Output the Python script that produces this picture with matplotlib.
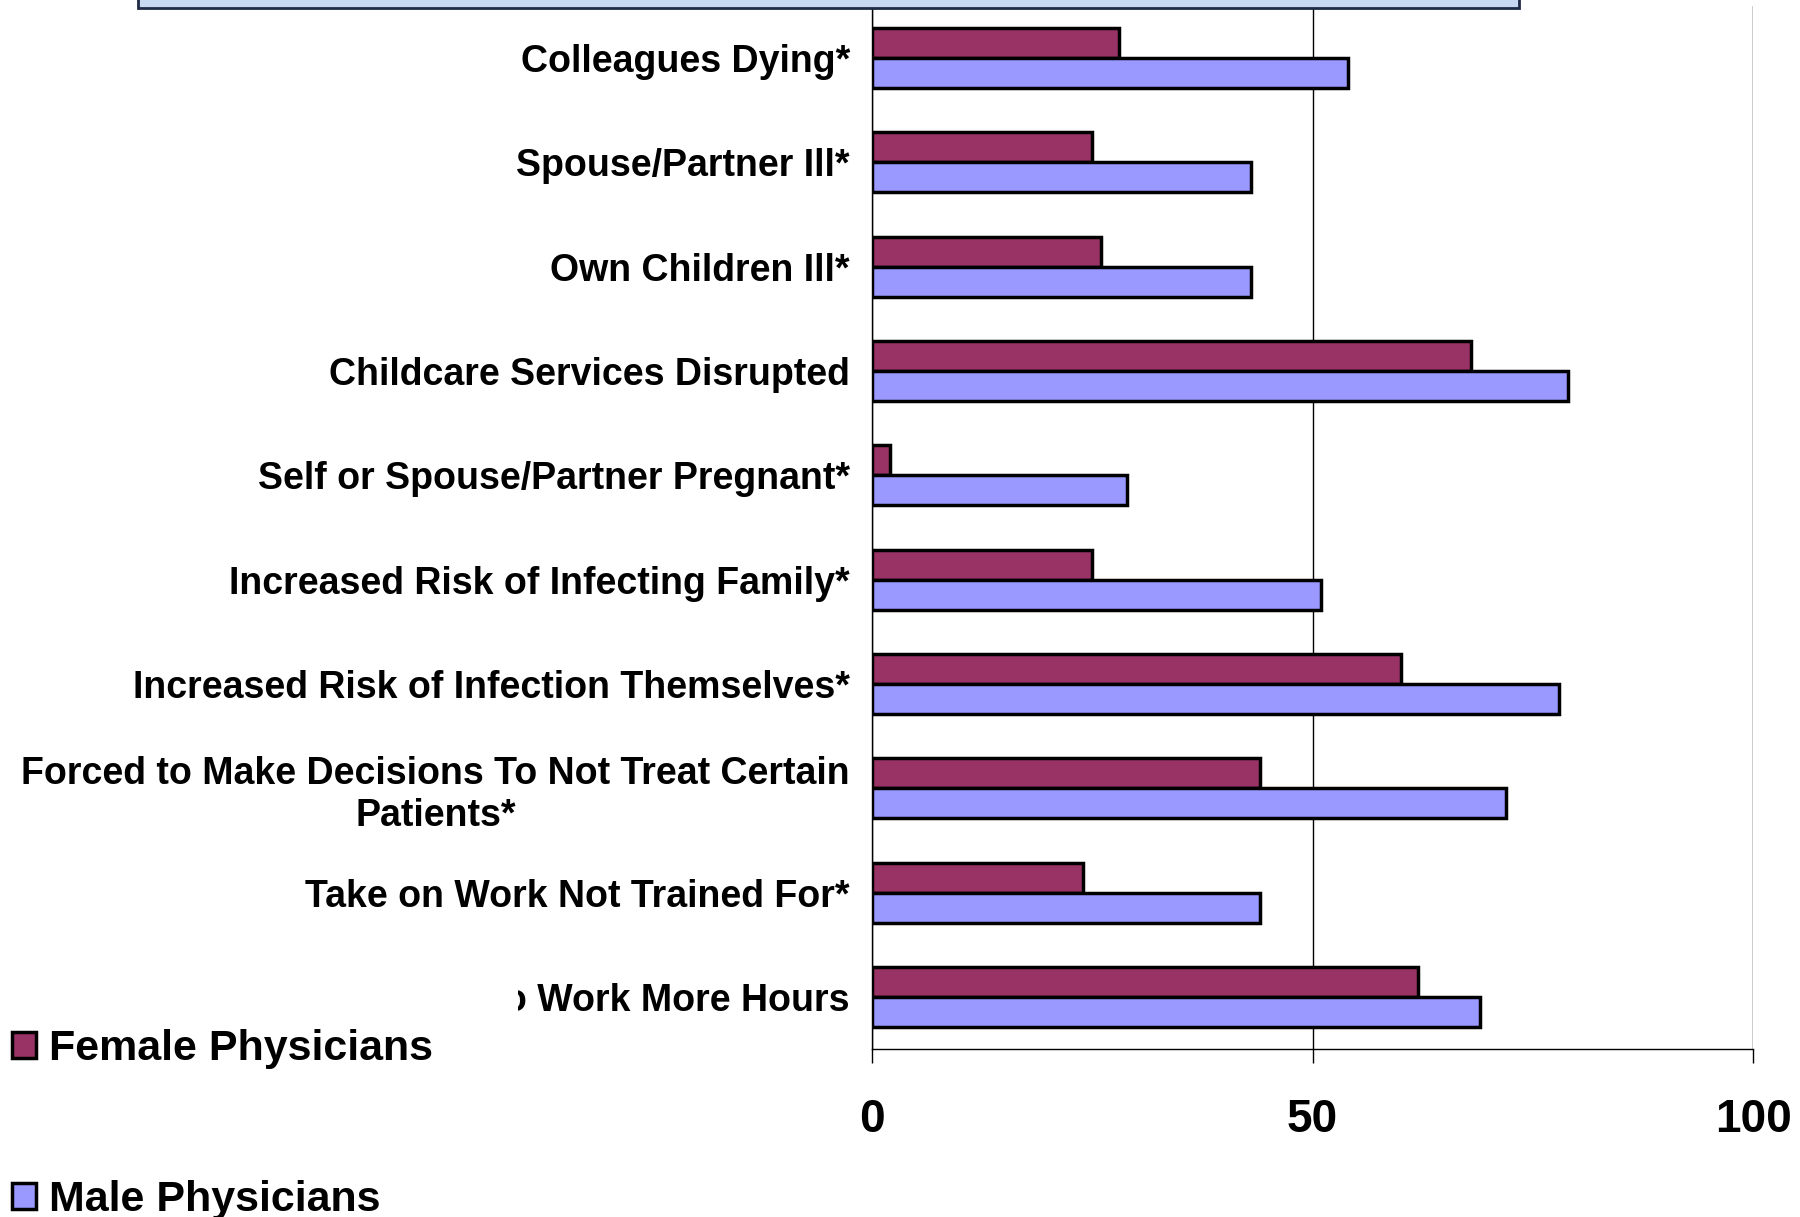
import matplotlib
matplotlib.use("Agg")
import matplotlib.pyplot as plt
from matplotlib.patches import Rectangle
import numpy as np

categories = [
    "Colleagues Dying*",
    "Spouse/Partner Ill*",
    "Own Children Ill*",
    "Childcare Services Disrupted",
    "Self or Spouse/Partner Pregnant*",
    "Increased Risk of Infecting Family*",
    "Increased Risk of Infection Themselves*",
    "Forced to Make Decisions To Not Treat Certain\nPatients*",
    "Take on Work Not Trained For*",
    "Forced to Work More Hours",
]
female = [28, 25, 26, 68, 2, 25, 60, 44, 24, 62]
male = [54, 43, 43, 79, 29, 51, 78, 72, 44, 69]
series_names = ["Female Physicians", "Male Physicians"]
xticks = [0, 50, 100]

plt.rcParams['font.family'] = ['Liberation Sans', 'DejaVu Sans']
plt.rcParams['font.weight'] = 'bold'

W, H = 1800, 1217
fig = plt.figure(figsize=(W / 100, H / 100), dpi=100)
ax = fig.add_axes([872 / W, 1 - 1049 / H, (1753 - 872) / W, (1049 - 6) / H])

y = np.arange(len(categories))
h = 0.288
ax.barh(y - h / 2, female, height=h, color="#993366", edgecolor="black",
        linewidth=2.5, label=series_names[0], zorder=3)
ax.barh(y + h / 2, male, height=h, color="#9999FF", edgecolor="black",
        linewidth=2.5, label=series_names[1], zorder=3)

ax.set_ylim(len(categories) - 0.5, -0.5)
ax.set_xlim(0, 100)
ax.set_yticks(y)
ax.set_yticklabels(categories, fontsize=27, fontweight='bold')
for t in ax.get_yticklabels():
    t.set_multialignment('center')
ax.tick_params(axis='y', length=0, pad=16)
ax.set_xticks(xticks)
ax.set_xticklabels([str(v) for v in xticks], fontsize=33, fontweight='bold')
ax.tick_params(axis='x', length=10, width=1, pad=25, direction='out')

ax.grid(axis='x', color='black', linewidth=1, zorder=0)
for s in ['top', 'right']:
    ax.spines[s].set_visible(False)
ax.spines['left'].set_linewidth(1)
ax.spines['bottom'].set_linewidth(1)

# title box (mostly off the top edge)
fig.patches.append(Rectangle((138 / W, 1 - 8 / H), (1519 - 138) / W, 0.05,
                             transform=fig.transFigure, facecolor="#C6D9F1",
                             edgecolor="#1F2A44", linewidth=2, zorder=2))

# legend background covering part of the last label
fig.patches.append(Rectangle((0, 0), 518 / W, 1 - 965 / H,
                             transform=fig.transFigure, facecolor="white",
                             edgecolor="none", zorder=2))

fig.legend(loc='upper left', bbox_to_anchor=(12 / W, 1 - 1029 / H),
           frameon=False, prop={'weight': 'bold', 'size': 31},
           handlelength=0.55, handleheight=0.55, handletextpad=0.3,
           labelspacing=2.58, borderpad=0, borderaxespad=0)

fig.savefig("out.png", dpi=100)
